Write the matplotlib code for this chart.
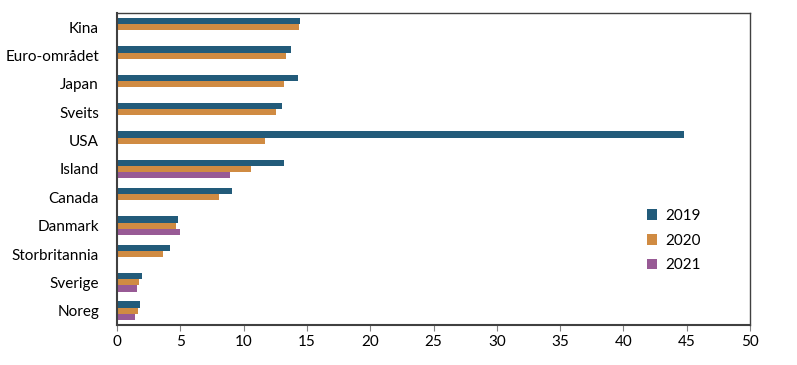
import numpy as np
import matplotlib.pyplot as plt

plt.rcParams['font.family'] = ['Lato', 'DejaVu Sans']

# Data
countries = ['Kina', 'Euro-området', 'Japan', 'Sveits', 'USA', 'Island',
             'Canada', 'Danmark', 'Storbritannia', 'Sverige', 'Noreg']
v2019 = [14.45, 13.75, 14.25, 13.05, 44.75, 13.15, 9.05, 4.82, 4.14, 1.93, 1.82]
v2020 = [14.4, 13.35, 13.15, 12.55, 11.65, 10.55, 8.05, 4.64, 3.64, 1.74, 1.66]
v2021 = [np.nan, np.nan, np.nan, np.nan, np.nan, 8.93, np.nan, 4.93, np.nan, 1.53, 1.43]

colors = ['#225b7a', '#d08b42', '#985a95']

fig = plt.figure(figsize=(7.97, 3.65), dpi=100)
ax = fig.add_axes([0.147, 0.11, 0.794, 0.854])

y = np.arange(len(countries))
h = 0.22
ax.barh(y - h, v2019, height=h, color=colors[0], label='2019')
ax.barh(y, v2020, height=h, color=colors[1], label='2020')
ax.barh(y + h, v2021, height=h, color=colors[2], label='2021')

ax.set_yticks(y)
ax.set_yticklabels(countries, fontsize=11)
ax.set_ylim(len(countries) - 0.5, -0.5)
ax.set_xlim(0, 50)
ax.set_xticks(range(0, 51, 5))
ax.tick_params(axis='x', labelsize=11, length=4, color='#808080')
ax.tick_params(axis='y', length=0, pad=13)
for s in ax.spines.values():
    s.set_color('#404040')
    s.set_linewidth(1.0)
ax.spines['left'].set_linewidth(1.5)
ax.spines['bottom'].set_linewidth(1.5)

ax.legend(loc='center left', bbox_to_anchor=(0.815, 0.27), frameon=False,
          fontsize=11, handlelength=0.7, handleheight=0.7,
          labelspacing=0.7, handletextpad=0.5)

fig.savefig('out.png', dpi=100)
